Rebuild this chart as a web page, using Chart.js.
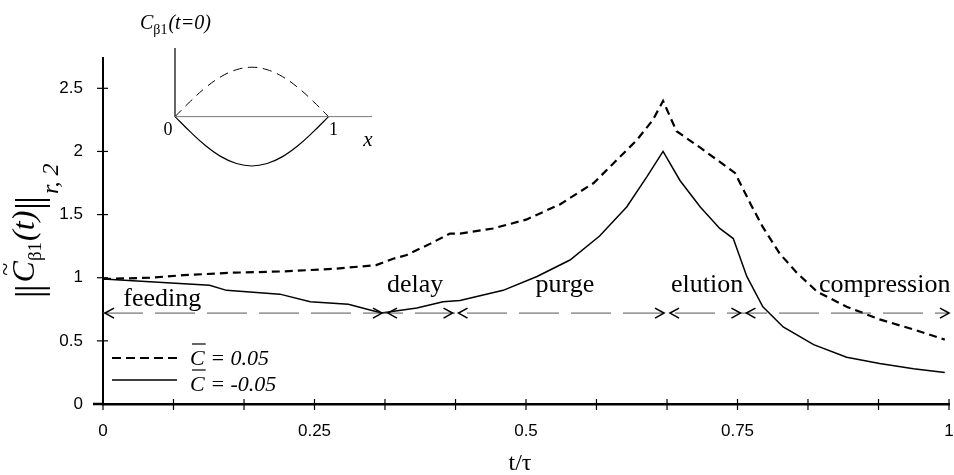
<!DOCTYPE html>
<html>
<head>
<meta charset="utf-8">
<script src="https://cdn.jsdelivr.net/npm/chart.js@4.4.0/dist/chart.umd.min.js"></script>
<style>
  html, body { margin: 0; padding: 0; background: #fff; }
  #wrap { position: relative; width: 954px; height: 475px; }
  #mainChart { position: absolute; left: 0; top: 0; }
  #insetChart { position: absolute; left: 120px; top: 0; }
</style>
</head>
<body>
<div id="wrap">
  <canvas id="mainChart" width="954" height="475"></canvas>
  <canvas id="insetChart" width="260" height="175"></canvas>
</div>
<script>
// C = 0.05 (dashed curve)
const tPos = [0, 0.056, 0.095, 0.154, 0.213, 0.272, 0.323, 0.343, 0.359, 0.387, 0.41, 0.422,
  0.461, 0.5, 0.54, 0.58, 0.607, 0.631, 0.65, 0.662, 0.678, 0.706, 0.747, 0.765, 0.78,
  0.8, 0.82, 0.844, 0.879, 0.918, 0.958, 0.995];
const normPos = [0.99, 1.0, 1.02, 1.04, 1.05, 1.07, 1.1, 1.15, 1.18, 1.27, 1.35, 1.35,
  1.39, 1.46, 1.58, 1.75, 1.93, 2.09, 2.25, 2.4, 2.16, 2.03, 1.83, 1.59, 1.4,
  1.19, 1.04, 0.89, 0.77, 0.67, 0.59, 0.51];

// C = -0.05 (solid curve)
const tNeg = [0, 0.126, 0.146, 0.209, 0.245, 0.29, 0.329, 0.371, 0.402, 0.422, 0.473, 0.513,
  0.552, 0.587, 0.619, 0.643, 0.662, 0.682, 0.706, 0.729, 0.745, 0.761, 0.78, 0.804,
  0.84, 0.879, 0.918, 0.958, 0.995];
const normNeg = [0.99, 0.94, 0.9, 0.87, 0.81, 0.79, 0.72, 0.76, 0.81, 0.82, 0.9, 1.01,
  1.14, 1.33, 1.56, 1.8, 2.0, 1.77, 1.56, 1.39, 1.31, 1.01, 0.77, 0.61,
  0.47, 0.37, 0.32, 0.28, 0.25];

const yTicks = [0, 0.5, 1, 1.5, 2, 2.5];
const xTicks = [0, 0.0833, 0.1667, 0.25, 0.3333, 0.4167, 0.5, 0.5833, 0.6667, 0.75, 0.8333, 0.9167, 1];
const xLabeled = [0, 0.25, 0.5, 0.75, 1];

// process steps along t/tau
const stageEdges = [0, 0.3333, 0.4167, 0.6667, 0.757, 1];
const stageNames = ["feeding", "delay", "purge", "elution", "compression"];
const stageLabelT = [0.07, 0.369, 0.546, 0.714, 0.924];
const stageLabelV = [0.78, 0.89, 0.89, 0.89, 0.89];
const arrowLevel = 0.72;

// inset: initial profile C_b1(t=0) over x
const insetX = [0, 0.1, 0.2, 0.3, 0.4, 0.5, 0.6, 0.7, 0.8, 0.9, 1];
const insetUpper = [0, 0.31, 0.59, 0.81, 0.95, 1, 0.95, 0.81, 0.59, 0.31, 0];
const insetLower = [0, -0.31, -0.59, -0.81, -0.95, -1, -0.95, -0.81, -0.59, -0.31, 0];

const SANS = '"Liberation Sans", Arial, sans-serif';
const SERIF = '"Liberation Serif", "Times New Roman", serif';

function toPoints(xs, ys) {
  return xs.map((x, i) => ({ x, y: ys[i] }));
}

function line(ctx, x1, y1, x2, y2) {
  ctx.beginPath();
  ctx.moveTo(x1, y1);
  ctx.lineTo(x2, y2);
  ctx.stroke();
}

function arrowHead(ctx, x, y, dir) {
  // dir = -1 points left, +1 points right
  ctx.beginPath();
  ctx.moveTo(x - dir * 9, y - 5);
  ctx.lineTo(x, y);
  ctx.lineTo(x - dir * 9, y + 5);
  ctx.stroke();
}

// "C" with a bar over it, followed by the rest of the text
function drawBarC(ctx, x, y, rest) {
  ctx.font = "italic 22px " + SERIF;
  ctx.fillText("C", x, y);
  const w = ctx.measureText("C").width;
  ctx.lineWidth = 1.2;
  line(ctx, x + 2, y - 21, x + w + 1, y - 21);
  ctx.fillText(rest, x + w, y);
}

function drawYLabel(ctx) {
  ctx.save();
  ctx.translate(34, 298);
  ctx.rotate(-Math.PI / 2);
  ctx.fillStyle = "#000";
  ctx.textBaseline = "alphabetic";
  let x = 0;
  const bars = () => {
    ctx.font = "38px " + SERIF;
    ctx.fillText("|", x, 8);
    ctx.fillText("|", x + 6, 8);
    x += 6 + ctx.measureText("|").width + 2;
  };
  bars();
  ctx.font = "italic 32px " + SERIF;
  ctx.fillText("C", x, 0);
  const cw = ctx.measureText("C").width;
  ctx.font = "24px " + SERIF;
  ctx.fillText("~", x + cw / 2 - 4, -21);
  x += cw;
  ctx.font = "19px " + SERIF;
  ctx.fillText("\u03b21", x, 7);
  x += ctx.measureText("\u03b21").width + 1;
  ctx.font = "italic 32px " + SERIF;
  ctx.fillText("(t)", x, 0);
  x += ctx.measureText("(t)").width + 1;
  bars();
  ctx.font = "italic 24px " + SERIF;
  ctx.fillText("r, 2", x, 24);
  ctx.restore();
}

const mainDecor = {
  id: "mainDecor",
  afterDraw(chart) {
    const { ctx, chartArea: a, scales: { x, y } } = chart;
    ctx.save();
    ctx.strokeStyle = "#000";
    ctx.fillStyle = "#000";

    // tick marks cross the axis lines
    ctx.lineWidth = 1.2;
    y.ticks.forEach(t => {
      const py = y.getPixelForValue(t.value);
      line(ctx, a.left - 6, py, a.left + 5, py);
    });
    x.ticks.forEach(t => {
      const px = x.getPixelForValue(t.value);
      line(ctx, px, a.bottom - 5, px, a.bottom + 6);
    });
    ctx.lineWidth = 2.5;
    line(ctx, a.left - 10, a.bottom, a.left, a.bottom);

    // step arrows
    const ay = y.getPixelForValue(arrowLevel);
    ctx.strokeStyle = "#555";
    ctx.lineWidth = 1;
    ctx.setLineDash([40, 12]);
    line(ctx, x.getPixelForValue(0), ay, x.getPixelForValue(1), ay);
    ctx.setLineDash([]);
    ctx.strokeStyle = "#000";
    ctx.lineWidth = 1.6;
    for (let i = 0; i < stageNames.length; i++) {
      const x1 = x.getPixelForValue(stageEdges[i]) + (i === 0 ? 2 : 3);
      const x2 = x.getPixelForValue(stageEdges[i + 1]) - (i === stageNames.length - 1 ? 0 : 3);
      arrowHead(ctx, x1, ay, -1);
      arrowHead(ctx, x2, ay, 1);
    }

    // step names
    ctx.font = "26px " + SERIF;
    ctx.textAlign = "center";
    ctx.textBaseline = "alphabetic";
    stageNames.forEach((name, i) => {
      ctx.fillText(name, x.getPixelForValue(stageLabelT[i]), y.getPixelForValue(stageLabelV[i]));
    });

    // legend
    ctx.textAlign = "left";
    ctx.lineWidth = 2;
    ctx.setLineDash([9, 5]);
    line(ctx, 112, 358, 177, 358);
    ctx.setLineDash([]);
    ctx.lineWidth = 1.5;
    line(ctx, 112, 380, 177, 380);
    drawBarC(ctx, 190, 365, " = 0.05");
    drawBarC(ctx, 190, 391, " = -0.05");

    // x axis title
    ctx.font = "24px " + SERIF;
    ctx.textAlign = "center";
    ctx.fillText("t/\u03c4", 520, 470);
    ctx.restore();

    drawYLabel(ctx);
  }
};

new Chart(document.getElementById("mainChart"), {
  type: "line",
  data: {
    datasets: [
      {
        label: "C = 0.05",
        data: toPoints(tPos, normPos),
        borderColor: "#000",
        borderWidth: 2.2,
        borderDash: [8, 5],
        pointRadius: 0,
        tension: 0,
        fill: false,
      },
      {
        label: "C = -0.05",
        data: toPoints(tNeg, normNeg),
        borderColor: "#000",
        borderWidth: 1.5,
        pointRadius: 0,
        tension: 0,
        fill: false,
      },
    ],
  },
  options: {
    responsive: false,
    animation: false,
    devicePixelRatio: 1,
    layout: { padding: { left: 0, right: 5, top: 58, bottom: 0 } },
    plugins: { legend: { display: false }, tooltip: { enabled: false } },
    scales: {
      x: {
        type: "linear",
        min: 0,
        max: 1,
        afterBuildTicks: s => { s.ticks = xTicks.map(v => ({ value: v })); },
        afterFit: s => {
          s.height = 71;
          s.paddingLeft = 0;
          s.paddingRight = 0;
        },
        grid: { display: false, drawTicks: false },
        border: { display: true, color: "#000", width: 2.5 },
        ticks: {
          padding: 17,
          autoSkip: false,
          maxRotation: 0,
          color: "#000",
          font: { family: SANS, size: 17 },
          callback: v => (xLabeled.some(l => Math.abs(l - v) < 1e-6) ? String(v) : ""),
        },
      },
      y: {
        min: 0,
        max: 2.74,
        afterBuildTicks: s => { s.ticks = yTicks.map(v => ({ value: v })); },
        afterFit: s => {
          s.width = 103;
          s.paddingTop = 0;
          s.paddingBottom = 0;
        },
        grid: { display: false, drawTicks: false },
        border: { display: true, color: "#000", width: 2 },
        ticks: {
          padding: 20,
          color: "#000",
          font: { family: SANS, size: 17 },
          callback: v => String(v),
        },
      },
    },
  },
  plugins: [mainDecor],
});

const insetDecor = {
  id: "insetDecor",
  afterDraw(chart) {
    const { ctx, chartArea: a, scales: { x, y } } = chart;
    const x0 = x.getPixelForValue(0);
    const x1 = x.getPixelForValue(1);
    const y0 = y.getPixelForValue(0);
    ctx.save();
    ctx.strokeStyle = "#000";
    ctx.lineWidth = 1.2;
    line(ctx, x0, a.top, x0, y0);
    ctx.strokeStyle = "#777";
    ctx.lineWidth = 1;
    line(ctx, x0, y0, a.right, y0);

    ctx.fillStyle = "#000";
    ctx.textAlign = "center";
    ctx.font = "18px " + SERIF;
    ctx.fillText("0", x0 - 7, y0 + 18);
    ctx.fillText("1", x1 + 5, y0 + 18);
    ctx.font = "italic 21px " + SERIF;
    ctx.fillText("x", a.right - 4, y0 + 29);

    // title C_b1(t=0)
    ctx.textAlign = "left";
    let tx = x0 - 35;
    ctx.font = "italic 20px " + SERIF;
    ctx.fillText("C", tx, 29);
    tx += ctx.measureText("C").width;
    ctx.font = "14px " + SERIF;
    ctx.fillText("\u03b21", tx, 34);
    tx += ctx.measureText("\u03b21").width + 1;
    ctx.font = "italic 20px " + SERIF;
    ctx.fillText("(t=0)", tx, 29);
    ctx.restore();
  }
};

new Chart(document.getElementById("insetChart"), {
  type: "line",
  data: {
    datasets: [
      {
        data: toPoints(insetX, insetUpper),
        borderColor: "#000",
        borderWidth: 1,
        borderDash: [9, 6],
        pointRadius: 0,
        tension: 0.4,
        clip: false,
      },
      {
        data: toPoints(insetX, insetLower),
        borderColor: "#000",
        borderWidth: 1.2,
        pointRadius: 0,
        tension: 0.4,
        clip: false,
      },
    ],
  },
  options: {
    responsive: false,
    animation: false,
    devicePixelRatio: 1,
    layout: { padding: { left: 55, right: 8, top: 48, bottom: 9 } },
    plugins: { legend: { display: false }, tooltip: { enabled: false } },
    scales: {
      x: { type: "linear", min: 0, max: 1.283, display: false },
      y: { min: -1, max: 1.39, display: false },
    },
  },
  plugins: [insetDecor],
});
</script>
</body>
</html>
